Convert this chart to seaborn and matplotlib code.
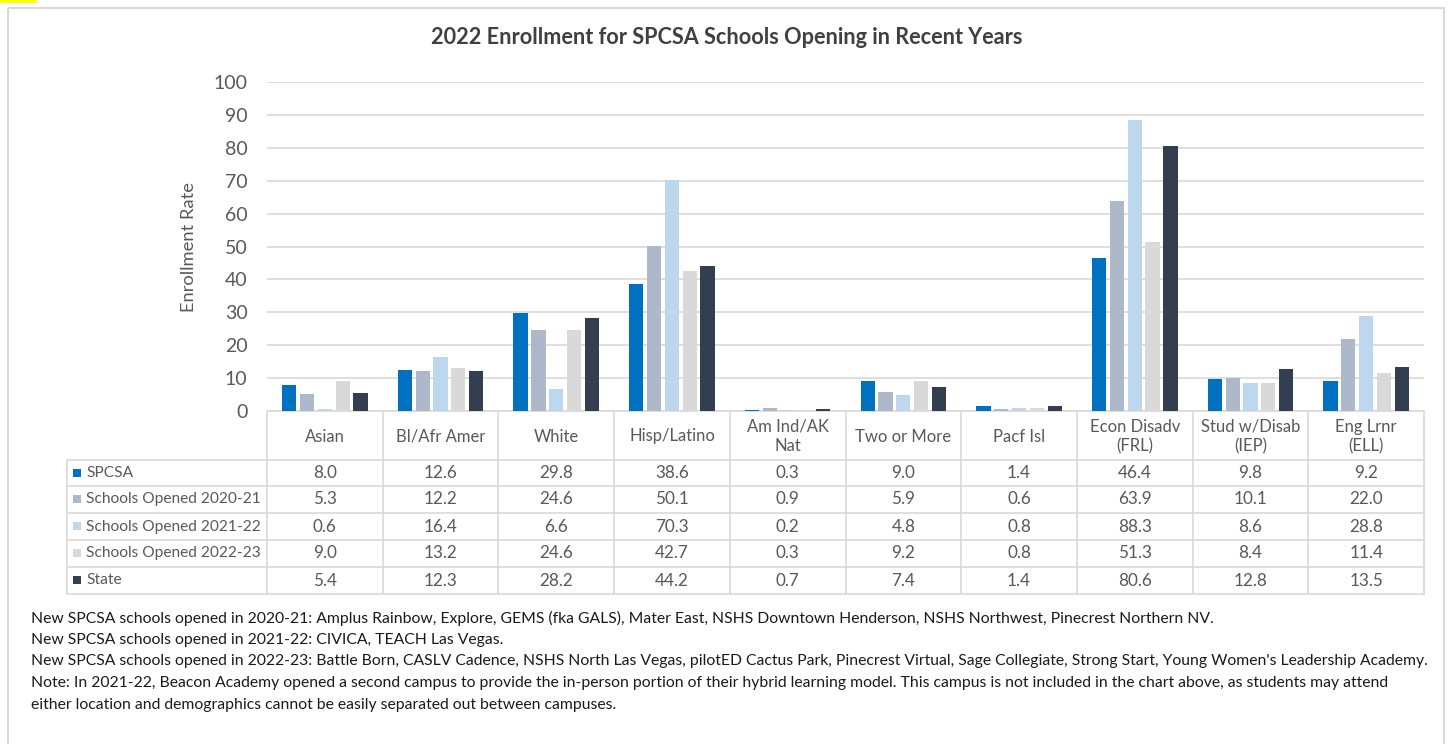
import matplotlib
matplotlib.use("Agg")
import matplotlib.pyplot as plt
import seaborn as sns
import pandas as pd
from matplotlib.patches import Rectangle

categories = ["Asian", "Bl/Afr Amer", "White", "Hisp/Latino", "Am Ind/AK\nNat",
              "Two or More", "Pacf Isl", "Econ Disadv\n(FRL)", "Stud w/Disab\n(IEP)",
              "Eng Lrnr\n(ELL)"]
series_names = ["SPCSA", "Schools Opened 2020-21", "Schools Opened 2021-22",
                "Schools Opened 2022-23", "State"]
spcsa = [8.0, 12.6, 29.8, 38.6, 0.3, 9.0, 1.4, 46.4, 9.8, 9.2]
opened_2020_21 = [5.3, 12.2, 24.6, 50.1, 0.9, 5.9, 0.6, 63.9, 10.1, 22.0]
opened_2021_22 = [0.6, 16.4, 6.6, 70.3, 0.2, 4.8, 0.8, 88.3, 8.6, 28.8]
opened_2022_23 = [9.0, 13.2, 24.6, 42.7, 0.3, 9.2, 0.8, 51.3, 8.4, 11.4]
state = [5.4, 12.3, 28.2, 44.2, 0.7, 7.4, 1.4, 80.6, 12.8, 13.5]
colors = ["#0070C0", "#ADB9CA", "#BDD7EE", "#D9D9D9", "#333F50"]
yticks = [0, 10, 20, 30, 40, 50, 60, 70, 80, 90, 100]

title = "2022 Enrollment for SPCSA Schools Opening in Recent Years"
ylabel = "Enrollment Rate"
notes = [
    "New SPCSA schools opened in 2020-21: Amplus Rainbow, Explore, GEMS (fka GALS), Mater East, NSHS Downtown Henderson, NSHS Northwest, Pinecrest Northern NV.",
    "New SPCSA schools opened in 2021-22: CIVICA, TEACH Las Vegas.",
    "New SPCSA schools opened in 2022-23: Battle Born, CASLV Cadence, NSHS North Las Vegas, pilotED Cactus Park, Pinecrest Virtual, Sage Collegiate, Strong Start, Young Women's Leadership Academy.",
    "Note: In 2021-22, Beacon Academy opened a second campus to provide the in-person portion of their hybrid learning model. This campus is not included in the chart above, as students may attend",
    "either location and demographics cannot be easily separated out between campuses.",
]

series_values = [spcsa, opened_2020_21, opened_2021_22, opened_2022_23, state]
rows = []
for name, vals in zip(series_names, series_values):
    for c, v in zip(categories, vals):
        rows.append({"Category": c, "Series": name, "Value": v})
df = pd.DataFrame(rows)

sns.set_theme(style="white")
plt.rcParams["font.family"] = ["Lato", "DejaVu Sans"]

W, H = 1448, 744
fig = plt.figure(figsize=(W / 100, H / 100), dpi=100)
fig.patch.set_facecolor("white")

# layout (pixels)
x0, x1 = 267, 1424
ytop, ybase = 82, 411
legx = 67
row_edges = [411, 460, 486, 513, 540, 567, 594]

ax = fig.add_axes([x0 / W, (H - ybase) / H, (x1 - x0) / W, (ybase - ytop) / H])
sns.barplot(data=df, x="Category", y="Value", hue="Series", hue_order=series_names,
            order=categories, palette=colors, width=0.77, gap=0.2, saturation=1,
            legend=False, ax=ax, linewidth=0)
ax.set_xlim(-0.5, len(categories) - 0.5)
ax.set_ylim(0, 100)
ax.set_yticks(yticks)
ax.set_yticklabels([str(t) for t in yticks], fontsize=14, color="#595959")
ax.tick_params(axis="y", length=0, pad=14)
ax.set_xticks([])
ax.set_xlabel("")
ax.set_ylabel(ylabel, fontsize=13.2, color="#595959", labelpad=12)
ax.yaxis.grid(True, color="#D9D9D9", linewidth=1.2)
ax.set_axisbelow(True)
for s in ax.spines.values():
    s.set_visible(False)
ax.patch.set_alpha(0)

# overlay for table, border, notes
ov = fig.add_axes([0, 0, 1, 1], zorder=-1)
ov.set_xlim(0, W)
ov.set_ylim(H, 0)
ov.axis("off")

# chart border
ov.add_patch(Rectangle((8, 8), 1436, 760, fill=False, edgecolor="#D9D9D9", lw=1.5))
ov.add_patch(Rectangle((0, 0), 37, 3, color="#FFFF00", lw=0))

ov.text(727, 37, title, ha="center", va="center", fontsize=15.6,
        fontweight="bold", color="#404040")

lc = "#D9D9D9"
colw = (x1 - x0) / len(categories)
# horizontal lines
ov.plot([x0, x1], [row_edges[0]] * 2, color=lc, lw=1.2)
for y in row_edges[1:]:
    ov.plot([legx, x1], [y, y], color=lc, lw=1.2)
# vertical lines
for i in range(len(categories) + 1):
    xx = x0 + i * colw
    ov.plot([xx, xx], [row_edges[0], row_edges[-1]], color=lc, lw=1.2)
ov.plot([legx, legx], [row_edges[1], row_edges[-1]], color=lc, lw=1.2)

tc = "#595959"
for i, c in enumerate(categories):
    ov.text(x0 + (i + 0.5) * colw, (row_edges[0] + row_edges[1]) / 2 + 1, c,
            ha="center", va="center", fontsize=12, color=tc, linespacing=1.25)
for r, (name, vals, col) in enumerate(zip(series_names, series_values, colors)):
    yc = (row_edges[r + 1] + row_edges[r + 2]) / 2
    ov.add_patch(Rectangle((73, yc - 4.5), 8, 8, color=col, lw=0))
    ov.text(86, yc, name, ha="left", va="center", fontsize=11.2, color=tc)
    for i, v in enumerate(vals):
        ov.text(x0 + (i + 0.5) * colw, yc, f"{v:.1f}", ha="center", va="center",
                fontsize=12.3, color=tc)

for k, line in enumerate(notes):
    ov.text(31, 618 + k * 21.7, line, ha="left", va="center", fontsize=11.35,
            color="#1a1a1a")

fig.savefig("out.png", dpi=100)
